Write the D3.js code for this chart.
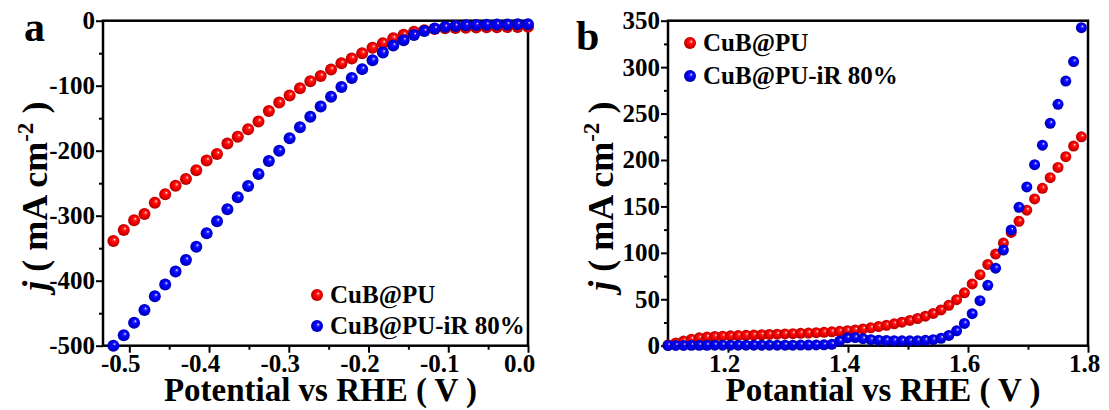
<!DOCTYPE html>
<html>
<head>
<meta charset="utf-8">
<script src="https://cdn.jsdelivr.net/npm/d3@7"></script>
<style>
  html, body { margin: 0; padding: 0; background: #fff; }
  svg { display: block; }
  text { font-family: 'Liberation Serif', 'Times New Roman', serif; font-weight: bold; fill: #000; }
</style>
</head>
<body>
<svg id="chart" width="1109" height="410"></svg>
<script>
// Two LSV panels: (a) HER, (b) OER, raw and 80 % iR-corrected.

// ─── Data ───────────────────────────────────────────────────────────────────

const seriesNames = ['CuB@PU', 'CuB@PU-iR 80%'];

// Panel a — potential (V vs RHE) and current density (mA cm-2)
const potentialA = [
  -0.520, -0.507, -0.494, -0.481, -0.468, -0.455, -0.442, -0.429, -0.416, -0.403,
  -0.390, -0.377, -0.364, -0.351, -0.338, -0.325, -0.312, -0.299, -0.286, -0.273,
  -0.260, -0.247, -0.234, -0.221, -0.208, -0.195, -0.182, -0.169, -0.156, -0.143,
  -0.130, -0.117, -0.104, -0.091, -0.078, -0.065, -0.052, -0.039, -0.026, -0.013, 0.000
];
const cubA = [
  -339, -322, -307, -297.5, -280, -267, -254, -243.5, -230, -215,
  -205, -189, -178.5, -167, -155, -139, -126, -115, -104, -93,
  -85, -75, -65.6, -58, -50, -41.5, -34.5, -27, -21.6, -17,
  -14.5, -12.8, -11.7, -11.2, -10.8, -10.5, -10.2, -10, -9.8, -9.6, -9.5
];
const cubIrA = [
  -500, -484, -464.6, -445, -424, -406, -386, -368, -347.7, -327,
  -308.5, -290, -271.7, -254.3, -235.8, -215.8, -200, -181, -164, -147.7,
  -132, -117, -102, -88, -74.5, -61, -49, -38, -30, -22,
  -16, -12, -9.5, -8, -7, -6.5, -6.2, -6, -5.8, -5.6, -5.5
];

// Panel b
const potentialB = [
  1.100, 1.113, 1.126, 1.139, 1.152, 1.165, 1.178, 1.191, 1.204, 1.217,
  1.230, 1.243, 1.256, 1.269, 1.282, 1.295, 1.308, 1.321, 1.334, 1.347,
  1.360, 1.373, 1.386, 1.399, 1.412, 1.425, 1.438, 1.451, 1.464, 1.477,
  1.490, 1.503, 1.516, 1.529, 1.542, 1.555, 1.568, 1.581, 1.594, 1.607,
  1.620, 1.633, 1.646, 1.659, 1.672, 1.685, 1.698, 1.711, 1.724, 1.737,
  1.750, 1.763, 1.776, 1.789
];
const cubB = [
  1, 3, 5, 7, 8.5, 9.3, 9.9, 10.3, 10.6, 10.9,
  11.2, 11.5, 11.8, 12.1, 12.4, 12.7, 13, 13.3, 13.6, 14,
  14.4, 14.9, 15.5, 16.2, 17, 18, 19.2, 20.6, 22, 23.6,
  25.3, 27.2, 29.3, 31.8, 34.8, 38.5, 43.5, 49.5, 57, 66.5,
  76.5, 87.5, 98.7, 110.5, 122, 134, 146, 158, 169.5, 181,
  192, 203.5, 215, 225
];
const cubIrB = [
  0.2, 0.3, 0.3, 0.4, 0.4, 0.4, 0.5, 0.5, 0.5, 0.5,
  0.5, 0.5, 0.5, 0.6, 0.6, 0.6, 0.6, 0.7, 0.7, 0.8,
  0.9, 1.5, 5, 8.5, 8.8, 7.5, 6.5, 6, 5.6, 5.4,
  5.2, 5.2, 5.4, 5.8, 6.5, 8, 11, 16, 24, 34.5,
  48.5, 65, 83.5, 103, 124.6, 149, 171, 195, 216, 239.5,
  260, 285, 306, 342.5
];

// Ticks
const xTicksA      = [-0.5, -0.4, -0.3, -0.2, -0.1, 0.0];
const xTickLabelsA = ['-0.5', '-0.4', '-0.3', '-0.2', '-0.1', '0.0'];
const xMinorA      = [-0.45, -0.35, -0.25, -0.15, -0.05];
const yTicksA      = [0, -100, -200, -300, -400, -500];
const yTickLabelsA = ['0', '-100', '-200', '-300', '-400', '-500'];
const yMinorA      = [-50, -150, -250, -350, -450];

const xTicksB      = [1.2, 1.4, 1.6, 1.8];
const xTickLabelsB = ['1.2', '1.4', '1.6', '1.8'];
const xMinorB      = [1.3, 1.5, 1.7];
const yTicksB      = [0, 50, 100, 150, 200, 250, 300, 350];
const yTickLabelsB = ['0', '50', '100', '150', '200', '250', '300', '350'];
const yMinorB      = [25, 75, 125, 175, 225, 275, 325];

// ─── Setup ──────────────────────────────────────────────────────────────────

const svg = d3.select('#chart');
const COLORS = { red: ['#ff0000', '#a80000'], blue: ['#0000ff', '#0000a0'] };
const FONT = "'Liberation Serif', 'Times New Roman', serif";

const defs = svg.append('defs');
Object.entries(COLORS).forEach(([name, [base, dark]]) => {
  const g = defs.append('radialGradient')
    .attr('id', `ball-${name}`)
    .attr('cx', '50%').attr('cy', '50%').attr('r', '55%')
    .attr('fx', '62%').attr('fy', '36%');
  g.append('stop').attr('offset', '0%').attr('stop-color', '#ffffff');
  g.append('stop').attr('offset', '22%').attr('stop-color', base).attr('stop-opacity', 0.85);
  g.append('stop').attr('offset', '45%').attr('stop-color', base);
  g.append('stop').attr('offset', '100%').attr('stop-color', dark);
});

// ─── Panel ──────────────────────────────────────────────────────────────────

function drawPanel(p) {
  const x = d3.scaleLinear().domain(p.xDomain).range([p.left, p.right]);
  const y = d3.scaleLinear().domain(p.yDomain).range([p.bottom, p.top]);
  const g = svg.append('g');

  // minor ticks (no labels)
  g.append('g')
    .attr('transform', `translate(0,${p.bottom})`)
    .call(d3.axisBottom(x).tickValues(p.xMinor).tickSize(4))
    .selectAll('text').remove();
  g.append('g')
    .attr('transform', `translate(${p.left},0)`)
    .call(d3.axisLeft(y).tickValues(p.yMinor).tickSize(4))
    .selectAll('text').remove();

  // major ticks + labels
  g.append('g')
    .attr('transform', `translate(0,${p.bottom})`)
    .call(d3.axisBottom(x).tickValues(p.xTicks).tickSize(7).tickPadding(2)
      .tickFormat((d, i) => p.xLabels[i]))
    .selectAll('text').attr('dx', p.xLabelShift);
  g.append('g')
    .attr('transform', `translate(${p.left},0)`)
    .call(d3.axisLeft(y).tickValues(p.yTicks).tickSize(7).tickPadding(1)
      .tickFormat((d, i) => p.yLabels[i]));

  g.selectAll('.domain').remove();
  g.selectAll('.tick line').attr('stroke', '#000').attr('stroke-width', 2);
  g.selectAll('.tick text')
    .attr('fill', '#000')
    .style('font-family', FONT)
    .style('font-weight', 'bold')
    .style('font-size', '25px');

  // frame
  g.append('rect')
    .attr('x', p.left).attr('y', p.top)
    .attr('width', p.right - p.left).attr('height', p.bottom - p.top)
    .attr('fill', 'none').attr('stroke', '#000').attr('stroke-width', 2.5);

  // markers (red under blue)
  p.series.forEach(s => {
    g.append('g').selectAll('circle')
      .data(s.values.map((v, i) => ({ x: p.potential[i], v })))
      .join('circle')
      .attr('cx', d => x(d.x))
      .attr('cy', d => y(d.v))
      .attr('r', p.r)
      .attr('fill', `url(#ball-${s.color})`);
  });

  // legend
  p.series.forEach((s, i) => {
    const ly = p.legend.y + i * p.legend.dy;
    g.append('circle')
      .attr('cx', p.legend.x).attr('cy', ly).attr('r', 6)
      .attr('fill', `url(#ball-${s.color})`);
    g.append('text')
      .attr('x', p.legend.x + 13).attr('y', ly + 8)
      .style('font-size', '25px')
      .text(s.name);
  });

  // axis titles
  g.append('text')
    .attr('x', (p.left + p.right) / 2 + 5).attr('y', 401)
    .attr('text-anchor', 'middle')
    .style('font-size', '33px')
    .text(p.xTitle);

  const yt = g.append('text')
    .attr('transform', `translate(${p.yTitleX},${(p.top + p.bottom) / 2 + 13}) rotate(-90)`)
    .attr('text-anchor', 'middle')
    .style('font-size', '36px');
  yt.append('tspan').style('font-style', 'italic').text('j');
  yt.append('tspan').text(' ( mA cm');
  yt.append('tspan').attr('dy', -14).style('font-size', '23px').text('-2');
  yt.append('tspan').attr('dy', 14).text(' )');

  // panel letter
  g.append('text')
    .attr('x', p.letter.x).attr('y', p.letter.y)
    .style('font-size', '42px')
    .text(p.letter.text);
}

drawPanel({
  left: 103, right: 528, top: 20.7, bottom: 345.7,
  xDomain: [-0.533, 0], yDomain: [-500, 0],
  xTicks: xTicksA, xLabels: xTickLabelsA, xMinor: xMinorA, xLabelShift: -9,
  yTicks: yTicksA, yLabels: yTickLabelsA, yMinor: yMinorA,
  potential: potentialA, r: 6,
  series: [
    { name: seriesNames[0], color: 'red',  values: cubA },
    { name: seriesNames[1], color: 'blue', values: cubIrA },
  ],
  legend: { x: 317, y: 295, dy: 31 },
  xTitle: 'Potential vs RHE ( V )',
  yTitleX: 47,
  letter: { text: 'a', x: 24, y: 41 },
});

drawPanel({
  left: 668, right: 1088, top: 20.7, bottom: 345.7,
  xDomain: [1.1, 1.8], yDomain: [0, 350],
  xTicks: xTicksB, xLabels: xTickLabelsB, xMinor: xMinorB, xLabelShift: -4,
  yTicks: yTicksB, yLabels: yTickLabelsB, yMinor: yMinorB,
  potential: potentialB, r: 5.5,
  series: [
    { name: seriesNames[0], color: 'red',  values: cubB },
    { name: seriesNames[1], color: 'blue', values: cubIrB },
  ],
  legend: { x: 690, y: 43, dy: 33 },
  xTitle: 'Potantial vs RHE ( V )',
  yTitleX: 613,
  letter: { text: 'b', x: 576, y: 50 },
});
</script>
</body>
</html>
